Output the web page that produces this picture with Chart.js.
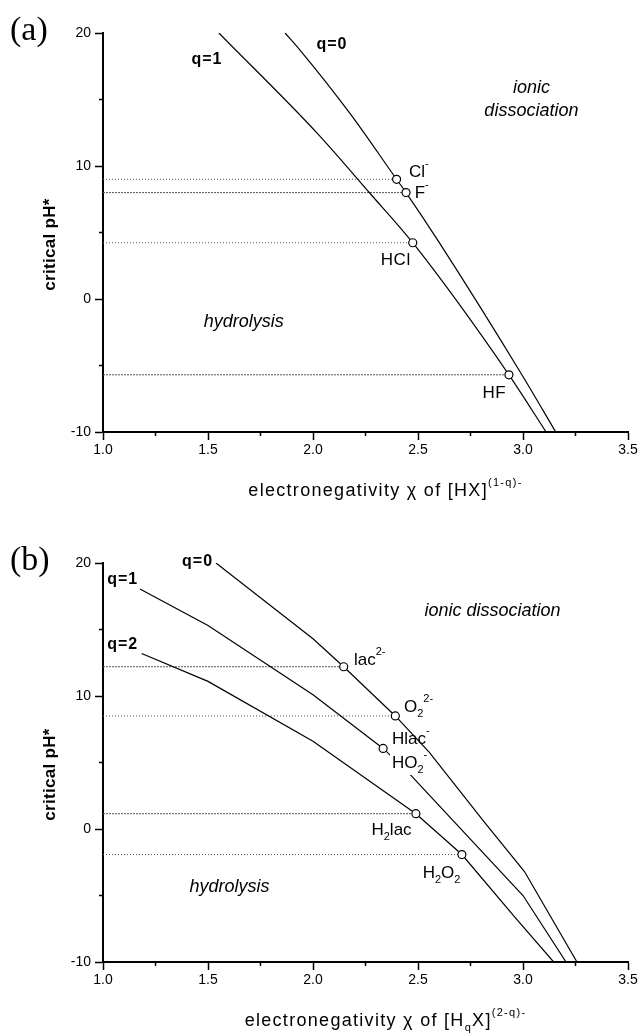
<!DOCTYPE html>
<html>
<head>
<meta charset="utf-8">
<script src="https://cdn.jsdelivr.net/npm/chart.js@4/dist/chart.umd.min.js"></script>
<style>
  body { margin: 0; background: #fff; }
  .panel { position: absolute; left: 0; width: 642px; height: 517px; }
</style>
</head>
<body>
<div class="panel" style="top:0"><canvas id="chartA" width="642" height="517"></canvas></div>
<div class="panel" style="top:517px"><canvas id="chartB" width="642" height="517"></canvas></div>
<script>
// axis ticks
const xMajor = [1.0, 1.5, 2.0, 2.5, 3.0, 3.5];
const xMinor = [1.25, 1.75, 2.25, 2.75, 3.25];
const yMajor = [-10, 0, 10, 20];
const yMinor = [-5, 5, 15];

// panel (a): [HX](1-q)-
const aQ0X = [1.867, 1.938, 2.176, 2.398, 2.443, 2.603, 2.991, 3.156];
const aQ0Y = [20, 18.72, 13.96, 9.0, 8.0, 4.2, -5.6, -10];
const aQ1X = [1.552, 2.024, 2.271, 2.475, 2.933, 3.11];
const aQ1Y = [20, 12.4, 7.95, 4.23, -5.7, -10];
// Cl-, F-, HCl, HF
const aMarkX = [2.398, 2.443, 2.475, 2.933];
const aMarkY = [9.0, 8.0, 4.23, -5.7];
const aRefIdx = [0, 1, 2, 3];

// panel (b): [HqX](2-q)-
const bQ0X = [1.538, 2.0, 2.146, 2.392, 2.554, 2.816, 3.007, 3.257];
const bQ0Y = [20, 14.3, 12.2, 8.5, 5.76, 0.52, -3.2, -10];
const bQ1X = [1.176, 1.5, 2.0, 2.334, 2.453, 3.0, 3.205];
const bQ1Y = [18.05, 15.3, 10.1, 6.06, 4.26, -5.0, -10];
const bQ2X = [1.184, 1.5, 2.0, 2.49, 2.709, 2.96, 3.146];
const bQ2Y = [13.2, 11.1, 6.6, 1.15, -1.92, -6.6, -10];
// lac2-, O2 2-, Hlac-/HO2-, H2lac, H2O2
const bMarkX = [2.146, 2.392, 2.334, 2.49, 2.709];
const bMarkY = [12.2, 8.5, 6.06, 1.15, -1.92];
const bRefIdx = [0, 1, 3, 4];

const FAM = '"Liberation Sans", Arial, sans-serif';
Chart.defaults.font.family = FAM;
Chart.defaults.font.size = 14;
Chart.defaults.color = '#000';

function pts(xs, ys) {
  return xs.map(function(x, i) { return {x: x, y: ys[i]}; });
}

function curve(xs, ys, smooth) {
  let ds = {data: pts(xs, ys), showLine: true, pointRadius: 0, borderColor: '#000',
            borderWidth: 1.2, tension: 0, order: 1};
  if (smooth) ds.cubicInterpolationMode = 'monotone';
  return ds;
}

function refLines(mx, my, idx, dense) {
  return idx.map(function(i, k) {
    return {data: [{x: 1.0, y: my[i]}, {x: mx[i], y: my[i]}], showLine: true, pointRadius: 0,
            borderColor: '#555', borderWidth: 1, borderDash: dense.indexOf(k) >= 0 ? [2, 1] : [1, 2],
            order: 2};
  });
}

function marks(mx, my) {
  return {data: pts(mx, my), showLine: false, pointRadius: 4, pointBorderWidth: 1.2,
          pointBackgroundColor: '#fff', pointBorderColor: '#000', order: 0};
}

// text with super/subscripts
function drawRich(ctx, parts, x, y, align, size, style, spacing, bg) {
  ctx.save();
  ctx.letterSpacing = (spacing || 0) + 'px';
  function fontFor(p) {
    return (style || '') + ' ' + (p[1] ? Math.round(size * 0.62) : size) + 'px ' + FAM;
  }
  let w = 0;
  parts.forEach(function(p) { ctx.font = fontFor(p); w += ctx.measureText(p[0]).width; });
  let cx = align === 'center' ? x - w / 2 : (align === 'right' ? x - w : x);
  if (bg) {
    ctx.fillStyle = '#fff';
    ctx.fillRect(cx - 2, y - size * 0.6, w + 4, size * 1.3);
  }
  ctx.textAlign = 'left';
  ctx.textBaseline = 'middle';
  ctx.fillStyle = '#000';
  parts.forEach(function(p) {
    ctx.font = fontFor(p);
    let dy = p[1] === 'sup' ? -size * 0.45 : (p[1] === 'sub' ? size * 0.38 : 0);
    ctx.fillText(p[0], cx, y + dy);
    cx += ctx.measureText(p[0]).width;
  });
  ctx.restore();
}

function makeNotes(letter, xTitle, notes) {
  return {
    id: 'notes',
    afterDraw: function(chart) {
      const ctx = chart.ctx, xs = chart.scales.x, ys = chart.scales.y, area = chart.chartArea;
      // minor ticks
      ctx.save();
      ctx.strokeStyle = '#000';
      ctx.lineWidth = 1.5;
      ctx.beginPath();
      xMinor.forEach(function(v) {
        const p = xs.getPixelForValue(v);
        ctx.moveTo(p, area.bottom); ctx.lineTo(p, area.bottom + 4);
      });
      yMinor.forEach(function(v) {
        const p = ys.getPixelForValue(v);
        ctx.moveTo(area.left - 4, p); ctx.lineTo(area.left, p);
      });
      ctx.stroke();
      ctx.restore();

      // notes in data coordinates
      notes.forEach(function(n) {
        drawRich(ctx, n.t, xs.getPixelForValue(n.x), ys.getPixelForValue(n.y),
                 n.align || 'left', n.size || 17, n.style || '', n.sp || 0, n.bg);
      });

      // axis titles
      drawRich(ctx, xTitle, (area.left + area.right) / 2 + 20, area.bottom + 59, 'center', 18, '', 1.3);
      ctx.save();
      ctx.translate(50, (area.top + area.bottom) / 2 + 12);
      ctx.rotate(-Math.PI / 2);
      drawRich(ctx, [['critical pH*', '']], 0, 0, 'center', 17, 'bold', 0.3);
      ctx.restore();

      // panel letter
      ctx.save();
      ctx.font = '34px "Liberation Serif", "Times New Roman", serif';
      ctx.textBaseline = 'middle';
      ctx.fillStyle = '#000';
      ctx.fillText(letter, 10, area.top - 2);
      ctx.restore();
    }
  };
}

function isIn(list, v) {
  return list.some(function(m) { return Math.abs(m - v) < 1e-6; });
}

function makeOptions(top, bottom) {
  return {
    responsive: false,
    animation: false,
    layout: {padding: {top: top, right: 14, left: 0, bottom: 0}},
    plugins: {legend: {display: false}, tooltip: {enabled: false}},
    scales: {
      x: {
        type: 'linear', min: 1, max: 3.5,
        afterFit: function(s) { s.height = 517 - bottom; },
        ticks: {
          stepSize: 0.25, autoSkip: false, maxRotation: 0, padding: 2,
          font: {size: 14},
          callback: function(v) { return isIn(xMajor, v) ? v.toFixed(1) : ''; }
        },
        grid: {
          drawOnChartArea: false, drawTicks: true, tickLength: 8, tickWidth: 1.5,
          tickColor: function(c) { return c.tick && isIn(xMajor, c.tick.value) ? '#000' : 'rgba(0,0,0,0)'; }
        },
        border: {display: true, color: '#000', width: 2}
      },
      y: {
        type: 'linear', min: -10, max: 20,
        afterFit: function(s) { s.width = 103; },
        ticks: {
          stepSize: 5, padding: 4, font: {size: 14},
          callback: function(v) { return isIn(yMajor, v) ? String(v) : ''; }
        },
        grid: {
          drawOnChartArea: false, drawTicks: true, tickLength: 8, tickWidth: 1.5,
          tickColor: function(c) { return c.tick && isIn(yMajor, c.tick.value) ? '#000' : 'rgba(0,0,0,0)'; }
        },
        border: {display: true, color: '#000', width: 2}
      }
    }
  };
}

const notesA = [
  {t: [['q=1', '']], x: 1.495, y: 17.97, align: 'center', size: 16, style: 'bold', sp: 1},
  {t: [['q=0', '']], x: 2.09, y: 19.1, align: 'center', size: 16, style: 'bold', sp: 1},
  {t: [['ionic', '']], x: 3.04, y: 15.9, align: 'center', size: 18, style: 'italic'},
  {t: [['dissociation', '']], x: 3.04, y: 14.15, align: 'center', size: 18, style: 'italic'},
  {t: [['Cl', ''], ['-', 'sup']], x: 2.457, y: 9.55, size: 17},
  {t: [['F', ''], ['-', 'sup']], x: 2.484, y: 7.97, size: 17},
  {t: [['HCl', '']], x: 2.394, y: 2.93, align: 'center', size: 17, sp: 0.5},
  {t: [['HF', '']], x: 2.863, y: -7.07, align: 'center', size: 17, sp: 0.5},
  {t: [['hydrolysis', '']], x: 1.67, y: -1.73, align: 'center', size: 18, style: 'italic'}
];

const notesB = [
  {t: [['q=0', '']], x: 1.524, y: 20.1, align: 'right', size: 16, style: 'bold', sp: 1},
  {t: [['q=1', '']], x: 1.02, y: 18.72, size: 16, style: 'bold', sp: 1},
  {t: [['q=2', '']], x: 1.02, y: 13.83, size: 16, style: 'bold', sp: 1},
  {t: [['ionic dissociation', '']], x: 2.855, y: 16.39, align: 'center', size: 18, style: 'italic'},
  {t: [['lac', ''], ['2-', 'sup']], x: 2.195, y: 12.71, size: 17},
  {t: [['O', ''], ['2', 'sub'], ['2-', 'sup']], x: 2.433, y: 9.17, size: 17},
  {t: [['Hlac', ''], ['-', 'sup']], x: 2.376, y: 6.77, size: 17},
  {t: [['HO', ''], ['2', 'sub'], ['-', 'sup']], x: 2.376, y: 4.96, size: 17, bg: true},
  {t: [['H', ''], ['2', 'sub'], ['lac', '']], x: 2.374, y: -0.08, align: 'center', size: 17},
  {t: [['H', ''], ['2', 'sub'], ['O', ''], ['2', 'sub']], x: 2.612, y: -3.31, align: 'center', size: 17},
  {t: [['hydrolysis', '']], x: 1.602, y: -4.36, align: 'center', size: 18, style: 'italic'}
];

new Chart(document.getElementById('chartA'), {
  type: 'scatter',
  data: {
    datasets: [marks(aMarkX, aMarkY), curve(aQ0X, aQ0Y, true), curve(aQ1X, aQ1Y, true)]
      .concat(refLines(aMarkX, aMarkY, aRefIdx, [1, 3]))
  },
  options: makeOptions(33, 432),
  plugins: [makeNotes('(a)', [['electronegativity \u03c7 of [HX]', ''], ['(1-q)-', 'sup']], notesA)]
});

new Chart(document.getElementById('chartB'), {
  type: 'scatter',
  data: {
    datasets: [marks(bMarkX, bMarkY), curve(bQ0X, bQ0Y), curve(bQ1X, bQ1Y), curve(bQ2X, bQ2Y)]
      .concat(refLines(bMarkX, bMarkY, bRefIdx, [0, 2]))
  },
  options: makeOptions(46, 445),
  plugins: [makeNotes('(b)', [['electronegativity \u03c7 of [H', ''], ['q', 'sub'], ['X]', ''], ['(2-q)-', 'sup']], notesB)]
});
</script>
</body>
</html>
